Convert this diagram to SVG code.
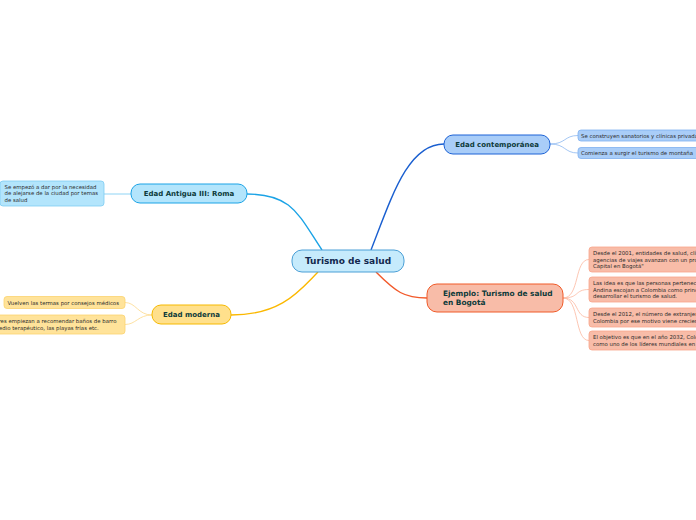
<svg xmlns="http://www.w3.org/2000/svg" width="696" height="520" viewBox="0 0 696 520">
<style>
text{font-family:"DejaVu Sans",Verdana,sans-serif}
.main{font-size:9px;font-weight:bold;fill:#12284e}
.lbl{font-size:7px;font-weight:bold;fill:#0d3a3a}
.lbl2{font-size:7.4px;font-weight:bold;fill:#0d3a3a}
.sm{font-size:5.4px;fill:#2c2c2c}
.c{fill:none}
</style>
<rect width="696" height="520" fill="#ffffff"/>
<g id="connectors">
<path class="c" d="M247,194 C292,194 298,214 322,250" stroke="#1ba3e6" stroke-width="1.4"/>
<path class="c" d="M231,315 C282,315 300,290 318,272" stroke="#fbb800" stroke-width="1.4"/>
<path class="c" d="M371,250 C392,196 408,144 444,144" stroke="#1a5fd0" stroke-width="1.4"/>
<path class="c" d="M376,272 C396,292 404,298 427,298" stroke="#f2592a" stroke-width="1.4"/>
<path class="c" d="M104,194 L131,194" stroke="#8fd4f5" stroke-width="1"/>
<path class="c" d="M152,315 C138,315 136,302.5 125,302.5" stroke="#fcd98a" stroke-width="0.8"/>
<path class="c" d="M152,315 C138,315 136,324.5 125,324.5" stroke="#fcd98a" stroke-width="0.8"/>
<path class="c" d="M550,144 C566,144 564,135.5 578,135.5" stroke="#8cb7f0" stroke-width="0.8"/>
<path class="c" d="M550,144 C566,144 564,153 578,153" stroke="#8cb7f0" stroke-width="0.8"/>
<path class="c" d="M563,298 C580,298 574,259.5 589,259.5" stroke="#fbb7a0" stroke-width="0.8"/>
<path class="c" d="M563,298 C580,298 574,289.5 589,289.5" stroke="#fbb7a0" stroke-width="0.8"/>
<path class="c" d="M563,298 C580,298 574,317.5 589,317.5" stroke="#fbb7a0" stroke-width="0.8"/>
<path class="c" d="M563,298 C580,298 574,340.5 589,340.5" stroke="#fbb7a0" stroke-width="0.8"/>
</g>
<g id="central">
<rect x="292" y="250" width="112" height="22" rx="10" fill="#c6ebfc" stroke="#4a9fd6" stroke-width="1"/>
<text class="main" x="348" y="264.3" text-anchor="middle">Turismo de salud</text>
</g>
<g id="roma">
<rect x="131" y="184" width="116" height="19" rx="9" fill="#b3e5fc" stroke="#1ba3e6" stroke-width="1"/>
<text class="lbl" x="189" y="196.3" text-anchor="middle">Edad Antigua III: Roma</text>
</g>
<g id="roma-1">
<rect x="0" y="181" width="104" height="25" rx="3" fill="#b3e5fc" stroke="#7dcdf2" stroke-width="0.8"/>
<text class="sm" x="4.5" y="188.7">Se empezó a dar por la necesidad</text>
<text class="sm" x="4.5" y="195.2">de alejarse de la ciudad por temas</text>
<text class="sm" x="4.5" y="201.7">de salud</text>
</g>
<g id="moderna">
<rect x="152" y="305" width="79" height="19" rx="9" fill="#ffe08c" stroke="#f6b900" stroke-width="1"/>
<text class="lbl" x="191.5" y="317.3" text-anchor="middle">Edad moderna</text>
</g>
<g id="moderna-1">
<rect x="4" y="296.5" width="121" height="12" rx="3" fill="#ffe39a" stroke="#fbd36e" stroke-width="0.8"/>
<text class="sm" x="7.5" y="304.6">Vuelven las termas por consejos médicos</text>
</g>
<g id="moderna-2">
<rect x="-4" y="315" width="129" height="19" rx="3" fill="#ffe39a" stroke="#fbd36e" stroke-width="0.8"/>
<text class="sm" x="-1.5" y="323.2">res empiezan a recomendar baños de barro</text>
<text class="sm" x="-1" y="329.7">edio terapéutico, las playas frías etc.</text>
</g>
<g id="contemporanea">
<rect x="444" y="135" width="106" height="19" rx="9" fill="#a9cdf8" stroke="#1c62d6" stroke-width="1"/>
<text class="lbl" x="497" y="147.3" text-anchor="middle">Edad contemporánea</text>
</g>
<g id="contemporanea-1">
<rect x="578" y="130" width="130" height="11" rx="3" fill="#a9cdf8" stroke="#7fb0f0" stroke-width="0.8"/>
<text class="sm" x="581" y="137.6">Se construyen sanatorios y clínicas privadas</text>
</g>
<g id="contemporanea-2">
<rect x="578" y="147.5" width="130" height="11" rx="3" fill="#a9cdf8" stroke="#7fb0f0" stroke-width="0.8"/>
<text class="sm" x="581" y="155.1">Comienza a surgir el turismo de montaña</text>
</g>
<g id="ejemplo">
<rect x="427" y="284" width="136" height="28" rx="10" fill="#f8bca8" stroke="#f05a28" stroke-width="1"/>
<text class="lbl2" x="443" y="296.3">Ejemplo: Turismo de salud</text>
<text class="lbl2" x="443" y="304.6">en Bogotá</text>
</g>
<g id="ejemplo-1">
<rect x="589" y="247" width="120" height="25" rx="3" fill="#f8bca8" stroke="#f9a58a" stroke-width="0.8"/>
<text class="sm" x="593" y="255">Desde el 2001, entidades de salud, clínicas,</text>
<text class="sm" x="593" y="261.5">agencias de viajes avanzan con un proyecto</text>
<text class="sm" x="593" y="268">Capital en Bogotá"</text>
</g>
<g id="ejemplo-2">
<rect x="589" y="277" width="120" height="25" rx="3" fill="#f8bca8" stroke="#f9a58a" stroke-width="0.8"/>
<text class="sm" x="593" y="285">Las idea es que las personas pertenecientes</text>
<text class="sm" x="593" y="291.5">Andina escojan a Colombia como principal</text>
<text class="sm" x="593" y="298">desarrollar el turismo de salud.</text>
</g>
<g id="ejemplo-3">
<rect x="589" y="308" width="120" height="19" rx="3" fill="#f8bca8" stroke="#f9a58a" stroke-width="0.8"/>
<text class="sm" x="593" y="316">Desde el 2012, el número de extranjeros</text>
<text class="sm" x="593" y="322.5">Colombia por ese motivo viene creciendo</text>
</g>
<g id="ejemplo-4">
<rect x="589" y="331" width="120" height="19" rx="3" fill="#f8bca8" stroke="#f9a58a" stroke-width="0.8"/>
<text class="sm" x="593" y="339">El objetivo es que en el año 2032, Colombia</text>
<text class="sm" x="593" y="345.5">como uno de los líderes mundiales en</text>
</g>
</svg>
